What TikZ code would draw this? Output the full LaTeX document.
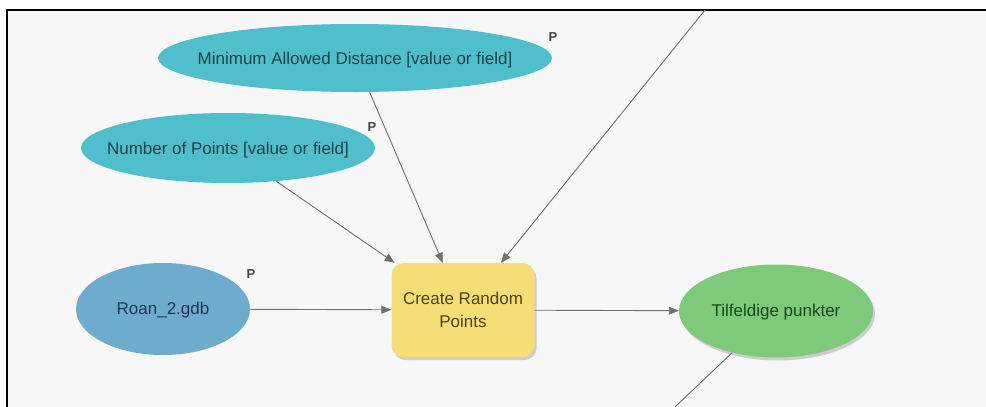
\documentclass[tikz,border=0pt]{standalone}
\usepackage{fontspec}
\setmainfont{Liberation Sans}
\usetikzlibrary{shapes.geometric,arrows.meta,shadows}
\definecolor{panelbg}{RGB}{247,247,247}
\definecolor{tealfill}{RGB}{80,191,204}
\definecolor{tealtext}{RGB}{24,66,78}
\definecolor{bluefill}{RGB}{110,172,206}
\definecolor{bluetext}{RGB}{30,54,82}
\definecolor{yellowfill}{RGB}{246,222,118}
\definecolor{yellowtext}{RGB}{80,66,16}
\definecolor{greenfill}{RGB}{126,201,122}
\definecolor{greentext}{RGB}{22,74,22}
\definecolor{linegray}{RGB}{112,112,112}
\definecolor{ptext}{RGB}{70,70,70}
\tikzset{
  nodefont/.style={font=\fontsize{17}{23}\selectfont},
  ell/.style={ellipse, inner sep=0pt},
  paramell/.style={ell, fill=tealfill, label={[text=tealtext, nodefont, yshift=-2pt]center:#1}},
  dataell/.style={ell, fill=bluefill, label={[text=bluetext, nodefont, yshift=-1pt]center:#1}},
  outell/.style={ell, fill=greenfill, label={[text=greentext, nodefont, yshift=-1pt]center:#1},
    drop shadow={shadow xshift=2pt, shadow yshift=-3pt, opacity=0.35}},
  toolbox/.style={rectangle, rounded corners=12pt, fill=yellowfill, text=yellowtext, align=center, inner sep=0pt,
    nodefont, drop shadow={shadow xshift=2pt, shadow yshift=-3pt, opacity=0.35}},
  plabel/.style={text=ptext, font=\bfseries\fontsize{13}{15}\selectfont, inner sep=0pt},
  conn/.style={draw=linegray, line width=0.9pt},
  arr/.style={conn, -{Triangle[length=10pt,width=8pt]}},
}
\begin{document}
\begin{tikzpicture}[x=1pt,y=-1pt]
\useasboundingbox (0,0) rectangle (986,407);
\fill[white] (0,0) rectangle (986,407);
\fill[panelbg] (7,10) rectangle (986,407);
\draw[black, line width=2pt] (7,407) -- (7,10) -- (986,10);

\node[paramell={Minimum Allowed Distance [value or field]}, minimum width=394pt, minimum height=68pt] (min) at (355,58) {};
\node[plabel] (pmin) at (553,37) {P};
\node[paramell={Number of Points [value or field]}, minimum width=294pt, minimum height=70pt] (num) at (228,148) {};
\node[plabel] (pnum) at (372,127) {P};
\node[dataell={Roan\_2.gdb}, minimum width=174pt, minimum height=92pt] (roan) at (163,309) {};
\node[plabel] (proan) at (251,274) {P};
\node[toolbox, minimum width=143pt, minimum height=94pt] (crp) at (463,310) {Create Random\\Points};
\node[outell={Tilfeldige punkter}, minimum width=194pt, minimum height=93pt] (tilf) at (776,311) {};

\coordinate (topin) at (705,10);
\coordinate (botout) at (675,407);

\draw[arr] (min) -- (crp);
\draw[arr] (num) -- (crp);
\draw[arr] (topin) -- (crp);
\draw[arr] (roan) -- (crp);
\draw[arr] (crp) -- (tilf);
\draw[conn] (tilf) -- (botout);
\end{tikzpicture}
\end{document}
